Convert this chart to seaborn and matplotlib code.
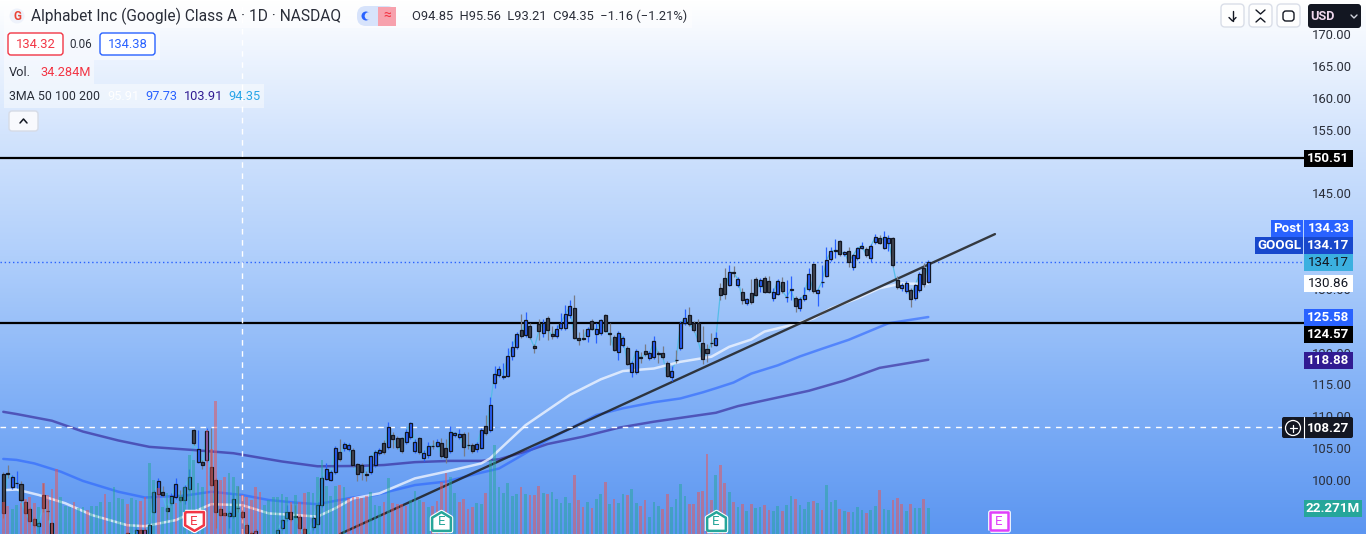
import numpy as np
import pandas as pd
import matplotlib
matplotlib.use("Agg")
import matplotlib.pyplot as plt
from matplotlib.colors import LinearSegmentedColormap
from matplotlib.patches import FancyBboxPatch, Rectangle, Circle
import seaborn as sns

# ---- candles, price ----
opens = [101.0,101.1,98.95,99.5,99.3,96.5,95.4,93.8,92.7,97.7,
         95.2,93.2,90.8,90.3,89.7,89.2,88.8,88.3,88.0,87.7,
         87.9,88.3,88.6,89.0,89.5,89.9,90.2,90.6,91.6,90.8,
         91.2,92.1,91.2,91.3,95.0,97.85,98.05,95.55,96.45,97.25,
         97.4,96.8,98.6,107.8,102.85,102.9,103.2,102.0,100.0,95.4,
         94.75,94.4,94.4,95.6,95.0,93.0,91.75,90.9,90.8,90.4,
         90.2,90.4,91.5,92.5,94.0,94.95,94.3,94.2,92.3,91.0,
         92.55,93.15,96.1,100.2,100.05,101.2,104.4,105.05,104.9,104.7,
         102.45,102.35,100.9,101.3,102.4,104.3,105.8,105.2,107.05,106.55,
         106.55,105.9,106.8,104.6,106.55,103.5,103.85,105.4,105.4,105.75,
         104.95,104.5,107.0,106.8,107.15,105.55,105.45,104.8,105.05,108.4,
         107.85,115.3,116.45,116.1,116.35,119.5,120.9,123.5,122.8,124.1,
         121.1,124.55,123.1,125.5,122.85,122.65,123.9,123.9,125.95,126.95,
         122.25,122.25,122.65,124.95,122.95,123.1,125.85,123.0,122.45,120.05,
         121.2,120.7,117.0,117.0,119.25,120.25,119.2,119.25,120.0,120.0,
         118.3,116.2,118.85,120.7,124.6,125.85,124.6,124.7,121.45,120.55,
         121.55,121.25,130.1,131.65,130.65,132.6,130.65,129.45,127.85,129.3,
         131.5,130.5,131.65,131.3,128.6,129.25,131.1,128.65,129.9,128.5,
         127.05,128.45,130.0,133.85,129.4,131.1,132.1,134.75,136.0,137.45,
         135.4,135.9,133.5,134.8,136.45,136.2,134.9,137.4,137.95,136.45,
         137.25,137.95,131.4,130.15,129.7,129.75,128.5,129.75,133.2,131.1]
closes = [94.75,101.0,100.4,99.6,96.85,94.85,93.6,92.9,93.3,95.65,
          95.1,91.5,90.3,89.7,89.2,88.8,88.3,88.0,87.7,87.9,
          88.3,88.6,89.0,89.5,89.9,90.2,90.6,91.0,90.9,91.1,
          92.1,91.0,92.1,93.0,98.05,99.8,97.65,95.2,97.55,99.3,
          96.9,98.85,100.4,105.75,104.8,102.4,107.7,99.25,95.0,94.55,
          94.55,94.75,96.95,95.55,94.25,91.7,90.9,92.0,90.4,90.1,
          90.5,90.9,92.1,93.65,95.05,93.8,94.25,92.4,91.5,91.4,
          94.0,96.15,100.25,101.7,101.2,105.0,103.35,105.6,105.5,102.35,
          101.0,101.3,100.85,103.7,104.4,104.65,104.45,108.35,106.4,105.2,
          104.6,107.5,108.9,105.95,104.4,104.2,105.3,105.35,105.9,103.8,
          103.65,107.6,107.3,107.15,105.2,105.5,104.6,105.6,107.85,107.3,
          111.75,116.6,117.5,116.4,119.45,120.8,122.85,122.65,125.05,122.5,
          120.75,123.4,124.7,123.6,122.65,123.65,124.7,126.0,127.25,122.35,
          122.0,122.2,123.65,123.75,123.65,125.05,123.45,122.95,120.45,123.15,
          122.25,118.25,118.3,120.25,119.2,119.7,119.9,121.75,119.7,119.35,
          116.35,117.05,118.8,124.6,125.4,124.5,123.6,121.85,119.05,120.0,
          121.5,122.25,129.1,129.25,132.6,132.55,131.5,128.3,128.35,128.0,
          129.1,131.4,129.55,129.55,129.45,131.3,129.7,128.7,129.95,127.35,
          128.35,129.0,132.3,129.7,129.75,131.15,134.5,135.9,136.05,135.5,
          135.75,134.25,135.25,136.35,136.8,135.25,136.7,138.1,137.25,138.1,
          137.95,133.7,130.35,130.65,131.0,128.45,130.55,132.3,130.75,134.2]
highs = [101.2,102.3,100.8,101.4,99.8,96.9,95.7,94.2,93.5,99.5,
         96.85,93.4,91.1,90.6,90.0,89.5,89.1,88.6,88.3,88.2,
         88.6,88.9,89.3,89.8,90.2,90.5,90.9,91.3,91.8,91.3,
         92.4,92.3,92.4,93.2,98.4,100.3,99.0,96.0,98.0,100.3,
         98.4,99.2,101.8,108.0,107.9,103.2,108.1,108.1,100.3,95.7,
         95.0,95.2,97.9,99.0,95.3,93.3,92.0,92.3,91.0,90.7,
         90.8,91.2,92.4,93.9,96.1,96.3,96.0,94.5,92.6,91.6,
         94.3,96.5,100.6,102.6,101.6,105.3,106.5,105.9,105.8,105.0,
         102.7,102.6,101.4,104.0,104.7,105.0,106.3,109.1,107.6,106.9,
         106.8,108.0,109.1,106.4,106.8,104.7,105.9,106.2,106.4,106.6,
         106.5,108.4,107.6,108.0,107.5,107.5,105.8,106.0,108.1,110.2,
         113.0,117.9,117.9,118.4,120.7,121.8,123.2,126.05,126.3,124.7,
         121.4,125.25,125.25,125.8,124.1,124.4,126.2,127.5,128.25,129.0,
         123.3,123.65,124.0,125.3,124.6,125.3,126.1,124.6,122.7,123.4,
         122.6,121.0,118.6,120.6,120.1,121.4,120.3,122.6,120.3,121.0,
         118.6,117.9,120.4,125.0,126.8,127.1,124.9,125.2,124.15,121.3,
         123.1,123.2,131.0,133.2,133.75,133.6,131.8,130.1,128.6,131.5,
         131.8,131.7,132.0,132.0,130.1,131.6,131.8,131.4,132.0,128.9,
         128.7,130.35,133.2,134.1,130.0,133.75,136.5,136.5,137.9,137.7,
         136.0,136.5,135.5,136.6,137.3,136.5,137.0,138.6,138.5,139.1,
         138.5,138.2,132.1,131.0,131.3,130.2,130.8,132.6,134.0,134.5]
lows = [94.0,100.3,98.6,98.7,96.6,94.6,93.4,92.6,91.6,94.9,
        93.7,91.0,90.0,89.4,88.9,88.5,88.0,87.7,87.4,87.4,
        87.6,88.0,88.3,88.7,89.2,89.6,89.9,90.3,90.5,90.5,
        90.8,90.7,90.9,91.0,94.8,97.5,97.4,93.9,96.0,97.0,
        96.5,96.3,98.3,105.5,102.6,101.8,102.9,99.0,92.4,94.3,
        94.3,92.4,94.0,95.0,93.9,91.2,90.5,90.6,90.1,89.8,
        89.9,90.1,91.2,92.2,93.6,93.5,94.0,92.1,91.2,90.7,
        92.2,92.9,95.8,100.0,99.8,101.0,103.0,104.6,104.6,102.1,
        99.9,100.0,99.9,101.0,102.1,104.0,104.1,104.9,105.0,104.9,
        104.3,105.6,106.4,104.2,104.1,103.0,103.5,104.9,105.1,103.5,
        102.7,104.2,106.7,106.5,103.8,104.9,104.2,104.4,104.8,107.1,
        107.6,114.5,116.2,115.9,116.1,118.9,120.6,122.3,122.5,122.2,
        119.9,122.0,122.5,122.0,122.2,122.3,123.6,123.6,125.5,122.1,
        121.2,122.0,121.7,123.5,121.55,122.8,123.2,121.2,120.2,118.8,
        120.8,118.0,116.2,116.7,118.3,119.4,118.8,119.0,118.4,119.0,
        116.1,115.5,118.4,120.4,124.3,124.2,123.3,121.6,118.2,118.5,
        120.8,121.0,128.3,128.4,130.4,131.8,130.3,127.6,127.5,127.7,
        128.85,129.55,129.3,129.3,128.1,129.0,129.4,128.0,128.25,126.4,
        126.6,128.1,129.7,129.4,127.35,130.35,131.8,134.3,134.8,135.2,
        135.1,133.5,133.0,134.5,136.2,135.0,134.2,137.1,137.0,136.2,
        135.9,133.5,130.0,129.65,129.4,127.2,128.2,129.5,130.3,130.9]

# ---- volume in millions ----
volumes = [27.7,24,21.1,24.9,26.3,29.7,31.4,26.3,22.9,43.4,
           33.4,38.3,55.4,32,24,23.4,27.4,22,23.4,20.6,
           24,24,27.7,34,27.7,40,30.6,29.7,25.7,30.6,
           29.1,28.6,32,60.6,46.3,39.1,23.4,34.9,31.4,26.9,
           33.4,40,67.7,63.4,43.4,40.6,89,73,114.3,46.3,
           49.1,52.6,48.6,41.1,33.4,32,29.1,40,36.3,24.9,
           29.1,31.4,32,34.3,32,27.7,33.4,27.7,35.4,36.3,
           35.4,49.1,63.4,41.1,32.6,41.1,42,40,30.6,31.4,
           31.4,30.6,32.6,36.3,24.9,24,27.7,47.7,26.3,25.7,
           25.7,24,29.1,37.1,29.1,27.7,23.4,24,28.6,44.9,
           52,49.1,34.9,27.7,29.7,21.1,23.4,26.9,25.7,34.9,
           63.4,76.3,40.6,35.4,44,32.6,34.3,40.6,34.3,33.4,
           33.4,41.1,35.4,34.3,36.3,29.7,26.9,32,26.9,50.6,
           29.1,23.4,27.7,22.6,29.7,34.3,44.9,25.7,29.7,26.9,
           34.3,33.4,38.6,26.9,24,29.1,14.9,27.7,24,21.1,
           34.3,23.4,30,42.9,32.6,25.7,25.7,36.3,36.9,68.6,
           29.1,50.6,59.1,43.4,36.3,27.7,23.4,25.7,20,25.7,
           22.3,22.9,24.6,20.6,20,24,19.7,24.9,32.6,30,
           24.9,21.4,27.7,28.3,26.6,20.6,42,27.7,29.1,21.1,
           19.7,18.9,18.9,23.4,20.6,17.7,20.6,24,37.7,21.4,
           20.6,29.1,30.9,25.7,20,25.7,22.3,22.3,29.7,22.271]
vol_up = [0,0,1,1,0,0,0,0,1,0, 0,0,0,1,1,1,0,1,1,0,
          1,1,1,0,1,1,1,1,0,1, 1,0,0,1,1,0,1,1,1,0,
          1,1,1,1,1,1,0,0,0,0, 0,1,1,1,0,0,0,0,0,1,
          1,1,1,1,1,0,1,0,0,1, 1,1,1,1,1,1,0,1,0,0,
          0,0,0,1,1,1,0,1,0,0, 0,0,1,1,1,0,1,0,0,0,
          0,1,1,0,0,0,0,1,1,0, 1,1,1,1,1,1,1,0,1,0,
          0,0,1,0,1,1,1,1,1,0, 0,0,1,0,1,1,0,1,0,1,
          1,0,1,1,0,0,1,1,1,0, 0,1,1,1,1,0,0,0,0,0,
          0,1,0,0,1,0,1,0,1,0, 1,1,0,0,1,1,0,1,1,0,
          1,1,1,0,1,0,1,1,1,0, 1,0,1,1,1,0,1,1,0,1,
          1,0,0,0,1,0,1,1,0,1]

# ---- moving averages, read at a few places ----
ma50_x = [0,3,8,14,20,28,32,39,44,47,54,60,66,71,75,79,85,93,100,108,110,112,118,128,135,140,147,153,160,164,169,172,177,183,187,193,198,203,207,209]
ma50_y = [98.4,98.5,97.65,96.35,94.5,92.9,92.75,93.7,95.3,96.2,96.05,94.75,94.5,94.25,95.55,97.1,97.9,100.25,101.3,102.6,103.4,104.7,108.6,113.35,115.8,117.1,117.5,118.55,119.35,120.9,122.05,123.3,124.15,125.35,126.95,128.5,130.1,130.85,130.8,130.86]
ma100_x = [0,3,7,13,18,26,32,41,47,54,60,66,71,79,84,93,100,108,112,118,123,129,134,140,147,153,158,161,165,169,175,180,185,191,200,209]
ma100_y = [103.3,103.15,102.6,101.3,99.85,98.15,97.25,97.55,98.15,97.65,96.85,96.45,96.2,97.25,97.65,99.2,99.75,101.15,101.8,104.2,106.3,108.4,110.2,111.25,112.2,112.8,113.75,114.4,115.3,116.7,118.0,119.4,120.6,122.0,124.6,125.58]
ma200_x = [0,3,11,18,26,33,43,52,63,71,80,86,93,101,108,112,118,123,131,139,147,155,161,166,174,182,190,198,209]
ma200_y = [110.7,110.35,109.3,107.6,106.2,105.2,104.7,104.2,102.9,102.15,102.2,102.35,102.8,103.0,103.0,103.25,104.45,105.65,106.8,108.2,109.15,109.95,110.55,111.6,112.8,114.0,115.6,117.6,118.88]

trend_x = [76.07, 224.06]
trend_y = [91.52, 138.6]
levels = [150.51, 124.57]
last_price = 134.17
cross_price = 108.27
cross_idx = 53.9

earn_idx = [43, 99, 161, 225]
earn_colors = ["#f23645", "#26a69a", "#26a69a", "#e040fb"]
earn_shapes = ["down", "up", "up", "square"]

# 125, 135, 140 et 150 sont cachés par les étiquettes
price_ticks = [100, 105, 110, 115, 120, 130, 145, 155, 160, 165, 170]

sns.set_theme(style="white")
plt.rcParams["font.family"] = ["Roboto", "DejaVu Sans"]

fig = plt.figure(figsize=(13.66, 5.34), dpi=100)
ax = fig.add_axes([0, 0, 1, 1])
idx = np.arange(len(closes))

# fond dégradé
grad = LinearSegmentedColormap.from_list("bg", [
    (0.0, "#ffffff"), (0.25, "#d3e4fd"), (0.48, "#b0cffb"),
    (0.72, "#85b3f7"), (1.0, "#5c96f1")])
xmin, xmax = -0.746, 307.9
ymin, ymax = 91.52, 175.35
ax.imshow(np.linspace(0, 1, 256).reshape(-1, 1), cmap=grad, aspect="auto",
          extent=[xmin, xmax, ymin, ymax], origin="upper", zorder=0)

# lines
sns.lineplot(x=idx, y=closes, color="#55bde8", lw=0.9, ax=ax, zorder=2)
sns.lineplot(x=ma200_x, y=ma200_y, color="#311b92", lw=1.8, alpha=0.6, ax=ax, zorder=2)
sns.lineplot(x=ma100_x, y=ma100_y, color="#2962ff", lw=1.8, alpha=0.6, ax=ax, zorder=2)
sns.lineplot(x=ma50_x, y=ma50_y, color="#f0f5ff", lw=1.8, alpha=0.8, ax=ax, zorder=2)

right_edge = (1304 - 3.3) / 4.426
ax.hlines(levels, xmin, right_edge, color="black", lw=1.6, zorder=3)
ax.hlines(last_price, xmin, right_edge, color="#2962ff", lw=1.0, ls=(0, (1, 2)), zorder=2)
ax.plot(trend_x, trend_y, color="#1e1e1e", lw=1.7, alpha=0.85, zorder=3)

# crosshair
ax.hlines(cross_price, xmin, (1282 - 3.3) / 4.426, color="white", lw=1.0, ls=(0, (4, 4)), zorder=3)
ax.vlines(cross_idx, ymin, ymax, color="white", lw=1.0, ls=(0, (4, 4)), zorder=3)

# candles
o = np.array(opens); c = np.array(closes); h = np.array(highs); l = np.array(lows)
up = c >= o
ax.vlines(idx[up], l[up], h[up], color="#2962ff", lw=0.9, zorder=4)
ax.vlines(idx[~up], l[~up], h[~up], color="#787b86", lw=0.9, zorder=4)
ax.bar(idx[up], (c - o)[up], bottom=o[up], width=0.68, color="#2962ff",
       edgecolor="#131722", lw=0.9, zorder=5)
ax.bar(idx[~up], (c - o)[~up], bottom=o[~up], width=0.68, color="#434651",
       edgecolor="#131722", lw=0.9, zorder=5)

ax.set_xlim(xmin, xmax)
ax.set_ylim(ymin, ymax)
ax.set_xticks([])
sns.despine(ax=ax, left=True, right=True, top=True, bottom=True)

# volume
ax2 = ax.twinx()
vol_df = pd.DataFrame({"i": idx, "vol": volumes, "dir": ["u" if v else "d" for v in vol_up]})
sns.barplot(data=vol_df, x="i", y="vol", hue="dir", native_scale=True, dodge=False,
            palette={"u": "#26a69a", "d": "#ef5350"}, saturation=1, alpha=0.5,
            width=0.62, legend=False, linewidth=0, edgecolor="none", ax=ax2, zorder=6)
ax2.set_xlim(xmin, xmax)
ax2.set_ylim(0, 457.6)
ax2.set_axis_off()

# twinx remet les graduations à gauche, donc on les met ici
ax.set_yticks(price_ticks)
ax.set_yticklabels([f"{t:.2f}" for t in price_ticks], color="#2a2e39", fontsize=9.4)
ax.yaxis.tick_right()
ax.tick_params(axis="y", length=0, pad=-39)

# marqueurs E
for i, col, shp in zip(earn_idx, earn_colors, earn_shapes):
    if shp == "down":
        verts = [(-1, 1), (1, 1), (1, -0.4), (0, -1), (-1, -0.4), (-1, 1)]
    elif shp == "up":
        verts = [(-1, -1), (1, -1), (1, 0.4), (0, 1), (-1, 0.4), (-1, -1)]
    else:
        verts = [(-1, -1), (1, -1), (1, 1), (-1, 1), (-1, -1)]
    ax2.plot([i], [11.1], marker=verts, ms=13.5, mfc="white", mec="white", mew=3.4, zorder=8)
    ax2.plot([i], [11.1], marker=verts, ms=13.5, mfc="white", mec=col, mew=1.8, zorder=9)
    ax2.text(i, 11.1, "E", color=col, fontsize=9.5, ha="center", va="center", zorder=10)

# ---- couche interface, en pixels ----
ui = fig.add_axes([0, 0, 1, 1], zorder=10)
ui.set_xlim(0, 1366)
ui.set_ylim(534, 0)
ui.axis("off")


def box(x0, y0, x1, y1, fc, ec="none", r=2, lw=1.0, alpha=None, z=1):
    ui.add_patch(FancyBboxPatch((x0 + r, y0 + r), x1 - x0 - 2 * r, y1 - y0 - 2 * r,
                                boxstyle=f"round,pad={r},rounding_size={r}",
                                fc=fc, ec=ec, lw=lw, alpha=alpha, zorder=z))


def label(x0, y0, x1, y1, txt, fc, col="white", bold=True, size=9.6):
    ui.add_patch(Rectangle((x0, y0), x1 - x0, y1 - y0, fc=fc, ec="none", zorder=3))
    ui.text((x0 + x1) / 2, (y0 + y1) / 2 + 0.3, txt, color=col, fontsize=size, ha="center",
            va="center", fontweight="bold" if bold else "normal", zorder=4)


# bandeaux légende
for x0, y0, x1, y1 in [(4, 4, 692, 28), (4, 28, 160, 60), (4, 60, 94, 84), (4, 84, 264, 108)]:
    ui.add_patch(Rectangle((x0, y0), x1 - x0, y1 - y0, fc="white", ec="none", alpha=0.45, zorder=1))

ui.add_patch(Circle((17, 16), 7.5, fc="#eef2fb", ec="none", zorder=2))
ui.text(17, 16, "G", color="#ea4335", fontsize=8.5, fontweight="bold", ha="center", va="center", zorder=3)
ui.text(31, 16.5, "Alphabet Inc (Google) Class A · 1D · NASDAQ", color="#2a2e39", fontsize=11.2,
        ha="left", va="center", zorder=3)
box(357, 6, 396, 26, "#d7e3fb", r=9, z=2)
ui.add_patch(Rectangle((378, 7), 18, 19, fc="#f7a1ad", ec="none", zorder=2))
ui.add_patch(Circle((366, 16), 4.5, fc="#2962ff", ec="none", zorder=3))
ui.add_patch(Circle((368.5, 16), 3.8, fc="#d7e3fb", ec="none", zorder=3))
ui.text(387, 16, "≈", color="#f23645", fontsize=10, ha="center", va="center", zorder=3)
ui.text(412, 16.5, "O94.85  H95.56  L93.21  C94.35  −1.16 (−1.21%)", color="#2a2e39", fontsize=9.3,
        ha="left", va="center", zorder=3)

box(8, 33, 63, 55, "#ffffff", ec="#f23645", r=3, z=2)
ui.text(35.5, 44.3, "134.32", color="#f23645", fontsize=9.4, ha="center", va="center", zorder=3)
ui.text(81, 44, "0.06", color="#2a2e39", fontsize=8.4, ha="center", va="center", zorder=3)
box(100, 33, 155, 55, "#ffffff", ec="#2962ff", r=3, z=2)
ui.text(127.5, 44.3, "134.38", color="#2962ff", fontsize=9.4, ha="center", va="center", zorder=3)

ui.text(9, 72.5, "Vol.", color="#2a2e39", fontsize=9.2, ha="left", va="center", zorder=3)
ui.text(40, 72.5, "34.284M", color="#f23645", fontsize=9.2, ha="left", va="center", zorder=3)
ui.text(9, 96.5, "3MA 50 100 200", color="#2a2e39", fontsize=8.9, ha="left", va="center", zorder=3)
ui.text(107, 96.5, "95.91", color="white", fontsize=9.2, ha="left", va="center", zorder=3)
ui.text(145, 96.5, "97.73", color="#2962ff", fontsize=9.2, ha="left", va="center", zorder=3)
ui.text(184, 96.5, "103.91", color="#311b92", fontsize=9.2, ha="left", va="center", zorder=3)
ui.text(228, 96.5, "94.35", color="#2aa5e8", fontsize=9.2, ha="left", va="center", zorder=3)

box(9, 111, 38, 131, "#f8f9fd", ec="#d6dbe6", r=3, z=2)
ui.plot([20, 23.5, 27], [123, 119, 123], color="#131722", lw=1.1, zorder=3)

# boutons haut droite
for x0 in [1221, 1249, 1277]:
    box(x0, 4, x0 + 23, 27, "#ffffff", ec="#d6dbe6", r=4, alpha=0.9, z=2)
ui.plot([1232.5, 1232.5], [11, 21], color="#131722", lw=1.0, zorder=3)
ui.plot([1229, 1232.5, 1236], [17.5, 21, 17.5], color="#131722", lw=1.0, zorder=3)
ui.plot([1256, 1260.5, 1265], [10, 14, 10], color="#131722", lw=1.0, zorder=3)
ui.plot([1256, 1260.5, 1265], [22, 18, 22], color="#131722", lw=1.0, zorder=3)
box(1283, 11, 1294, 21, "none", ec="#131722", r=3, z=3)
box(1308, 4, 1361, 28, "#131722", r=3, z=3)
ui.text(1322, 16.5, "USD", color="#f0d8ee", fontsize=9.2, ha="center", va="center", fontweight="bold", zorder=4)
ui.plot([1351, 1354, 1357], [15, 18, 15], color="#d1d4dc", lw=1.0, zorder=4)

# étiquettes de prix
label(1304, 150, 1353, 167, "150.51", "#000000")
label(1271, 220, 1303, 237, "Post", "#2962ff")
label(1304, 220, 1353, 237, "134.33", "#2962ff")
label(1255, 237, 1303, 254, "GOOGL", "#1848cc")
label(1304, 237, 1353, 254, "134.17", "#1848cc")
label(1304, 254, 1353, 271, "134.17", "#3bb0e0", col="#131722", bold=False)
label(1304, 275, 1353, 292, "130.86", "#ffffff", col="#131722", bold=False)
label(1304, 309, 1353, 326, "125.58", "#2962ff")
label(1304, 326, 1353, 343, "124.57", "#000000")
label(1304, 352, 1353, 369, "118.88", "#311b92")
box(1282, 417, 1353, 438, "#131722", r=2, z=3)
ui.text(1328.5, 428, "108.27", color="white", fontsize=9.6, fontweight="bold", ha="center", va="center", zorder=4)
ui.plot([1303.5, 1303.5], [417, 438], color="white", lw=0.8, zorder=4)
ui.add_patch(Circle((1293, 428), 7.5, fc="none", ec="white", lw=0.9, zorder=4))
ui.plot([1289.5, 1296.5], [428, 428], color="white", lw=0.9, zorder=4)
ui.plot([1293, 1293], [424.5, 431.5], color="white", lw=0.9, zorder=4)
label(1304, 500, 1362, 517, "22.271M", "#26a69a")

plt.savefig("out.png", dpi=100)
